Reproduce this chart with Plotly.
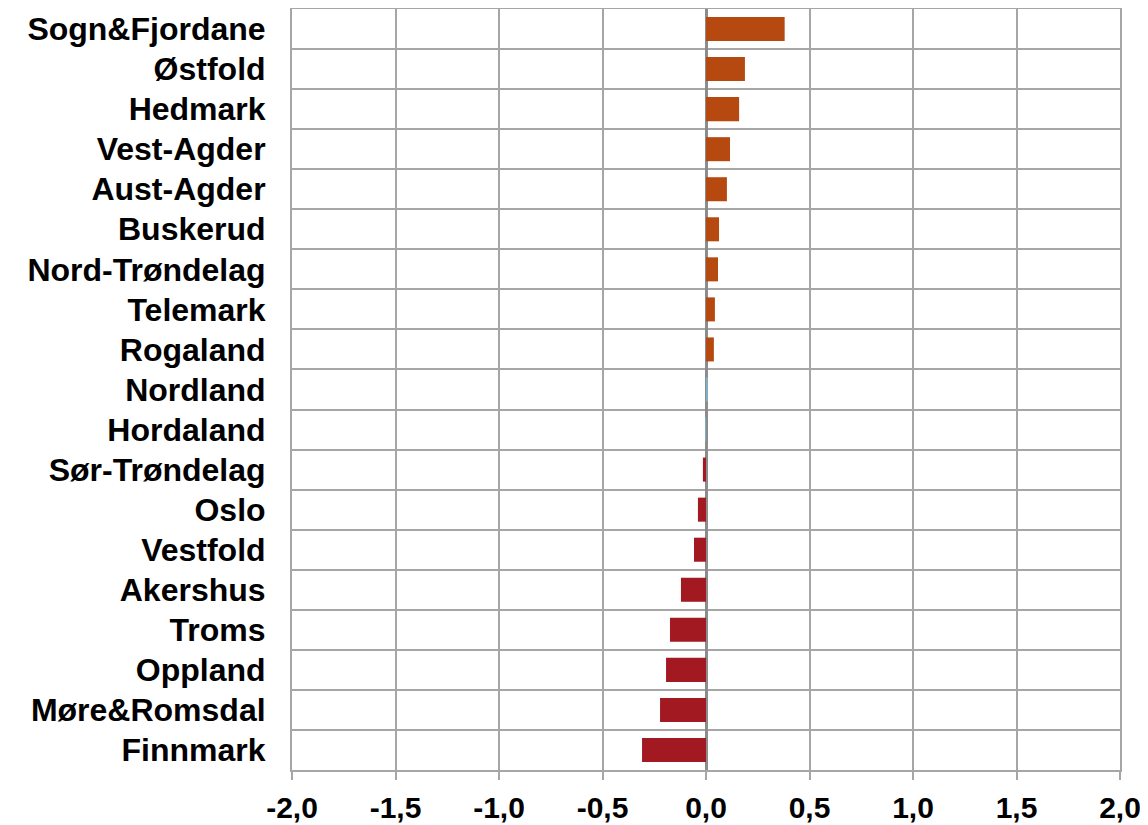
import plotly.graph_objects as go

counties = ["Sogn&Fjordane", "Østfold", "Hedmark", "Vest-Agder", "Aust-Agder", "Buskerud",
            "Nord-Trøndelag", "Telemark", "Rogaland", "Nordland", "Hordaland", "Sør-Trøndelag",
            "Oslo", "Vestfold", "Akershus", "Troms", "Oppland", "Møre&Romsdal", "Finnmark"]
values = [0.38, 0.188, 0.16, 0.116, 0.101, 0.063, 0.058, 0.043, 0.038, 0.005, -0.003, -0.015,
          -0.039, -0.058, -0.121, -0.174, -0.193, -0.222, -0.309]

x_tick_values = [-2.0, -1.5, -1.0, -0.5, 0.0, 0.5, 1.0, 1.5, 2.0]
x_tick_labels = ["-2,0", "-1,5", "-1,0", "-0,5", "0,0", "0,5", "1,0", "1,5", "2,0"]

ORANGE = "#B5490F"
RED = "#A31922"
BLUE = "#7FAFC4"


def bar_color(v):
    if abs(v) < 0.01:
        return BLUE
    return ORANGE if v > 0 else RED


colors = [bar_color(v) for v in values]

fig = go.Figure(go.Bar(
    x=values, y=counties, orientation="h",
    marker=dict(color=colors, line=dict(width=0)),
    hoverinfo="x+y",
))

GRID = "#A6A6A6"
FAMILY = "Liberation Sans, Arial, sans-serif"

# page body has an 8px default margin, so the figure is sized/offset to compensate
fig.update_layout(
    width=1140, height=817,
    margin=dict(l=284, r=28, t=1, b=55),
    paper_bgcolor="white", plot_bgcolor="white",
    bargap=0.4,
    showlegend=False,
    xaxis=dict(
        range=[-2, 2],
        tickvals=x_tick_values, ticktext=x_tick_labels,
        showgrid=True, gridcolor=GRID, gridwidth=2,
        zeroline=True, zerolinecolor="#8C8C8C", zerolinewidth=3,
        showline=True, linecolor=GRID, linewidth=2, mirror=True,
        ticks="outside", ticklen=8, tickwidth=2, tickcolor=GRID,
        tickfont=dict(family=FAMILY, size=30, color="#000000", weight="bold"),
        ticklabelstandoff=2,
        automargin=False,
        fixedrange=True,
    ),
    yaxis=dict(
        autorange="reversed",
        type="category",
        tickson="boundaries",
        showgrid=True, gridcolor=GRID, gridwidth=2,
        showline=True, linecolor=GRID, linewidth=2, mirror=True,
        ticks="",
        tickfont=dict(family=FAMILY, size=32, color="#000000", weight="bold"),
        ticklabelstandoff=18,
        automargin=False,
        fixedrange=True,
    ),
)

fig.write_html("out.html")
